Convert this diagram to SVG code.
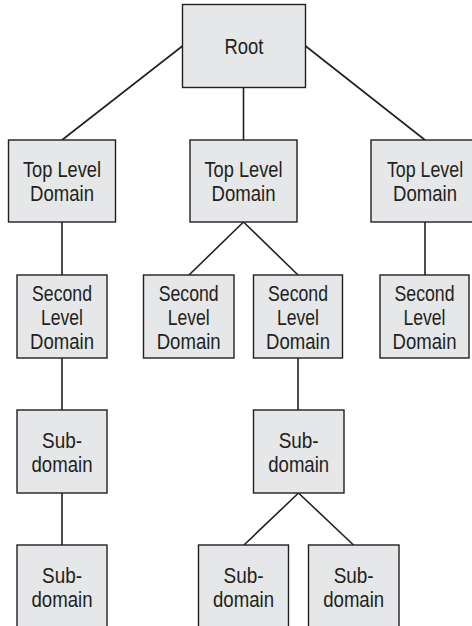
<svg xmlns="http://www.w3.org/2000/svg" width="472" height="626" viewBox="0 0 472 626">
<style>
rect.n{fill:#e6e7e8;stroke:#231f20;stroke-width:1.4}
text{font-family:"Liberation Sans",Arial,sans-serif;font-size:22px;fill:#231f20;text-anchor:middle}
#connectors line{stroke:#231f20;stroke-width:1.6}
</style>
<rect width="472" height="626" fill="#ffffff"/>
<g id="connectors">
<line x1="182.5" y1="46" x2="62" y2="140"/>
<line x1="243.5" y1="87.5" x2="243.5" y2="140"/>
<line x1="305.5" y1="46" x2="425" y2="140"/>
<line x1="62" y1="222" x2="62" y2="275"/>
<line x1="243.5" y1="222" x2="189" y2="275"/>
<line x1="243.5" y1="222" x2="298" y2="275"/>
<line x1="425" y1="222" x2="425" y2="275"/>
<line x1="62" y1="358" x2="62" y2="410"/>
<line x1="298" y1="358" x2="298" y2="410"/>
<line x1="62" y1="493" x2="62" y2="545"/>
<line x1="298.5" y1="493" x2="244" y2="545"/>
<line x1="298.5" y1="493" x2="353.5" y2="545"/>
</g>
<g id="root"><rect class="n" x="182.5" y="4.5" width="123" height="83"/><text x="244" y="54" textLength="39" lengthAdjust="spacingAndGlyphs">Root</text></g>
<g id="tld1"><rect class="n" x="8.5" y="140" width="107" height="82"/><text x="62" y="177" textLength="78" lengthAdjust="spacingAndGlyphs">Top Level</text><text x="62" y="201" textLength="64" lengthAdjust="spacingAndGlyphs">Domain</text></g>
<g id="tld2"><rect class="n" x="190" y="140" width="107" height="82"/><text x="243.5" y="177" textLength="78" lengthAdjust="spacingAndGlyphs">Top Level</text><text x="243.5" y="201" textLength="64" lengthAdjust="spacingAndGlyphs">Domain</text></g>
<g id="tld3"><rect class="n" x="371" y="140" width="108" height="82"/><text transform="translate(425 177) scale(0.81 1)" x="0" y="0">Top Level</text><text x="425" y="201" textLength="64" lengthAdjust="spacingAndGlyphs">Domain</text></g>
<g id="sld1"><rect class="n" x="17" y="275" width="90" height="83"/><text x="62" y="301" textLength="60" lengthAdjust="spacingAndGlyphs">Second</text><text x="62" y="325" textLength="42" lengthAdjust="spacingAndGlyphs">Level</text><text x="62" y="349" textLength="64" lengthAdjust="spacingAndGlyphs">Domain</text></g>
<g id="sld2"><rect class="n" x="143.5" y="275" width="90.5" height="83"/><text x="188.7" y="301" textLength="60" lengthAdjust="spacingAndGlyphs">Second</text><text x="188.7" y="325" textLength="42" lengthAdjust="spacingAndGlyphs">Level</text><text x="188.7" y="349" textLength="64" lengthAdjust="spacingAndGlyphs">Domain</text></g>
<g id="sld3"><rect class="n" x="253.5" y="275" width="89" height="83"/><text x="298" y="301" textLength="60" lengthAdjust="spacingAndGlyphs">Second</text><text x="298" y="325" textLength="42" lengthAdjust="spacingAndGlyphs">Level</text><text x="298" y="349" textLength="64" lengthAdjust="spacingAndGlyphs">Domain</text></g>
<g id="sld4"><rect class="n" x="380" y="275" width="89" height="83"/><text x="424.5" y="301" textLength="60" lengthAdjust="spacingAndGlyphs">Second</text><text x="424.5" y="325" textLength="42" lengthAdjust="spacingAndGlyphs">Level</text><text x="424.5" y="349" textLength="64" lengthAdjust="spacingAndGlyphs">Domain</text></g>
<g id="sub1"><rect class="n" x="17" y="410" width="90" height="83"/><text x="62" y="448" textLength="40" lengthAdjust="spacingAndGlyphs">Sub-</text><text x="62" y="472" textLength="61" lengthAdjust="spacingAndGlyphs">domain</text></g>
<g id="sub2"><rect class="n" x="253.5" y="410" width="90.5" height="83"/><text x="298.7" y="448" textLength="40" lengthAdjust="spacingAndGlyphs">Sub-</text><text x="298.7" y="472" textLength="61" lengthAdjust="spacingAndGlyphs">domain</text></g>
<g id="sub3"><rect class="n" x="17" y="545" width="90" height="86"/><text x="62" y="583" textLength="40" lengthAdjust="spacingAndGlyphs">Sub-</text><text x="62" y="607" textLength="61" lengthAdjust="spacingAndGlyphs">domain</text></g>
<g id="sub4"><rect class="n" x="198.5" y="545" width="90" height="86"/><text x="243.5" y="583" textLength="40" lengthAdjust="spacingAndGlyphs">Sub-</text><text x="243.5" y="607" textLength="61" lengthAdjust="spacingAndGlyphs">domain</text></g>
<g id="sub5"><rect class="n" x="308.5" y="545" width="90.5" height="86"/><text x="353.7" y="583" textLength="40" lengthAdjust="spacingAndGlyphs">Sub-</text><text x="353.7" y="607" textLength="61" lengthAdjust="spacingAndGlyphs">domain</text></g>
</svg>
